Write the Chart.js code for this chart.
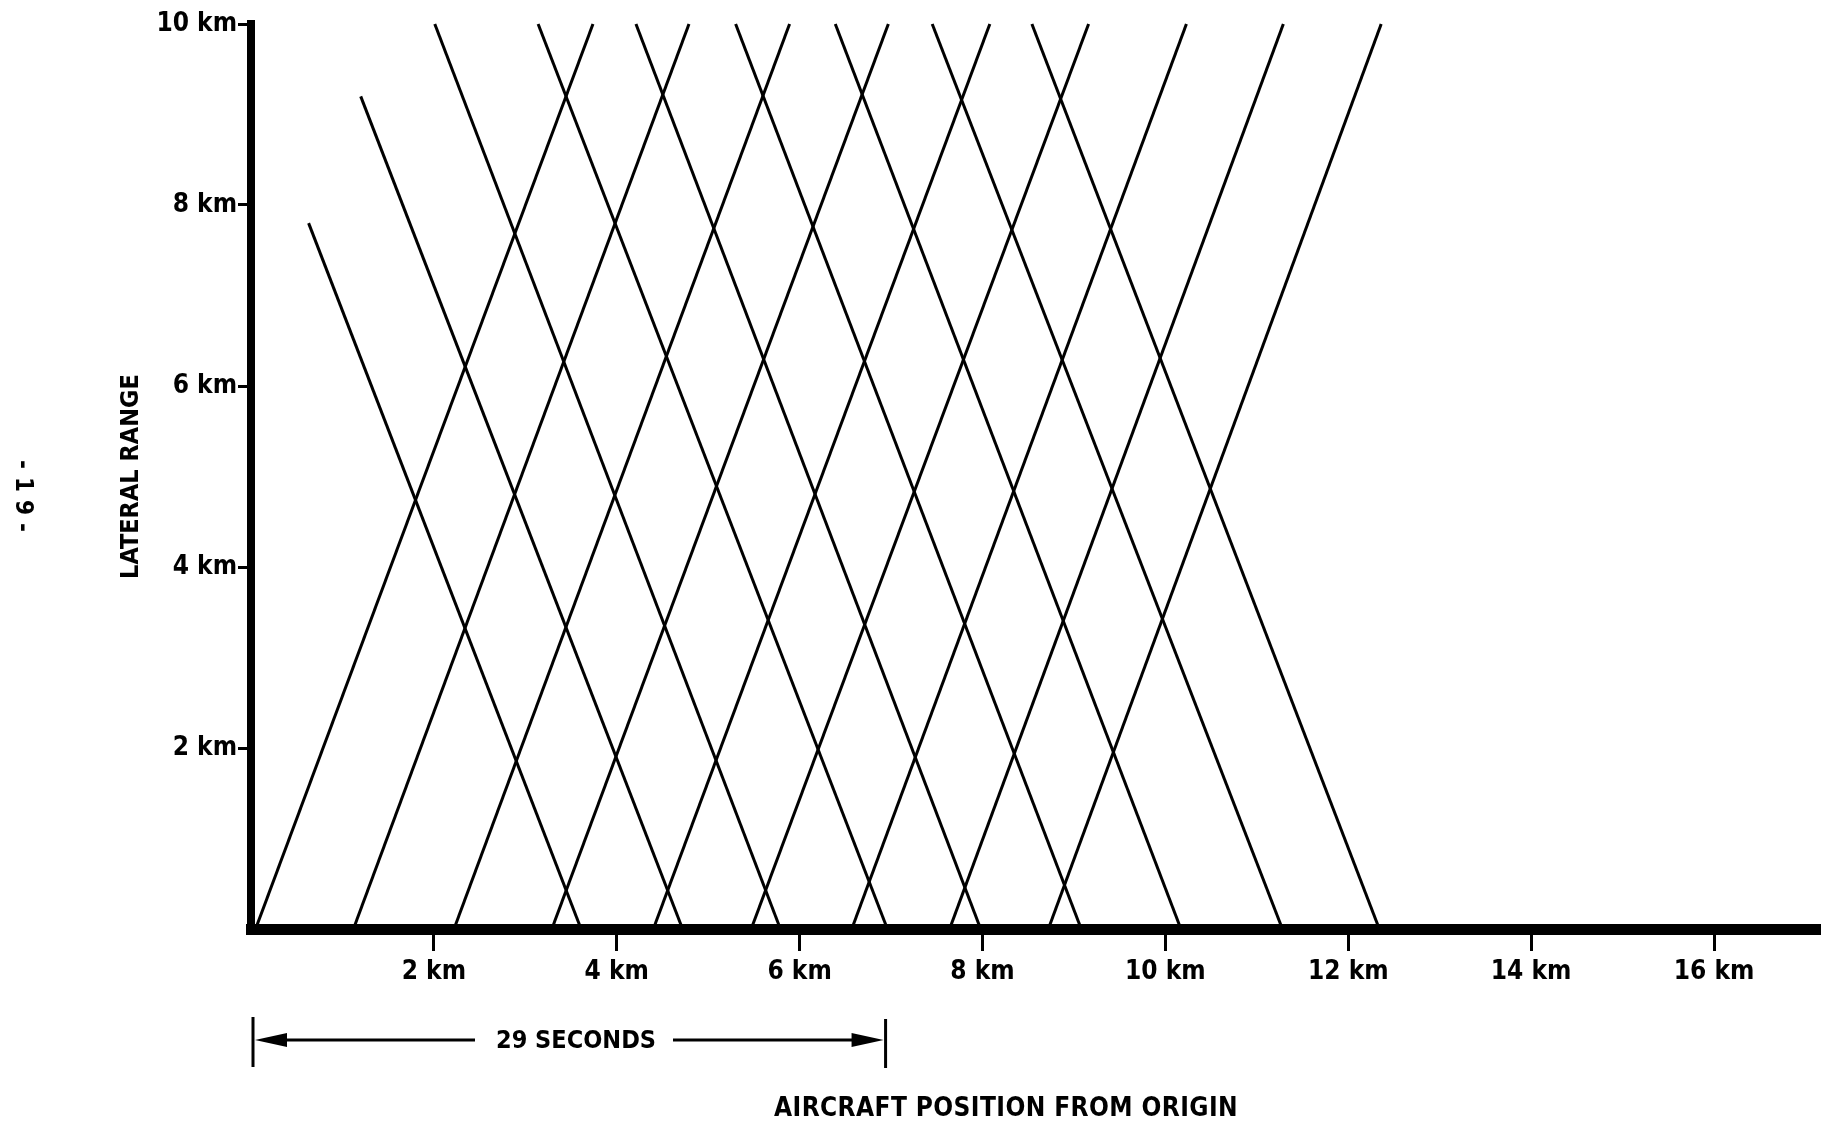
<!DOCTYPE html>
<html>
<head>
<meta charset="utf-8">
<script src="https://cdn.jsdelivr.net/npm/chart.js@4.4.1/dist/chart.umd.min.js"></script>
<style>
  html, body { margin: 0; padding: 0; background: #fff; }
  canvas { display: block; }
</style>
</head>
<body>
<canvas id="c" width="1821" height="1122"></canvas>
<script>
// ---------- data (km) ----------
const ascStartX  = [0.05, 1.12, 2.22, 3.29, 4.40, 5.47, 6.57, 7.64, 8.72];
const ascStartY  = [0, 0, 0, 0, 0, 0, 0, 0, 0];
const ascEndX    = [3.74, 4.79, 5.89, 6.97, 8.08, 9.16, 10.23, 11.29, 12.36];
const ascEndY    = [10, 10, 10, 10, 10, 10, 10, 10, 10];

const descStartX = [0.63, 1.20, 2.01, 3.14, 4.21, 5.30, 6.39, 7.45, 8.54];
const descStartY = [7.80, 9.20, 10, 10, 10, 10, 10, 10, 10];
const descEndX   = [3.61, 4.72, 5.79, 6.96, 7.98, 9.08, 10.17, 11.28, 12.34];
const descEndY   = [0, 0, 0, 0, 0, 0, 0, 0, 0];

const xTickValues = [2, 4, 6, 8, 10, 12, 14, 16];
const yTickValues = [2, 4, 6, 8, 10];
const xRange = [0, 17.17];
const yRange = [0, 10];
const spanKm = [0, 6.94];          // "29 SECONDS" span
const spanLabel = '29 SECONDS';
const xTitle = 'AIRCRAFT POSITION FROM ORIGIN';
const yTitle = 'LATERAL RANGE';
const pageLabel = '-19-';

// ---------- build ----------
const FONT = '"Liberation Sans Narrow", "DejaVu Sans Condensed", "Arial Narrow", sans-serif';
const datasets = [];
function seg(x1, y1, x2, y2) {
  return {
    data: [{x: x1, y: y1}, {x: x2, y: y2}],
    showLine: true,
    borderColor: '#000',
    borderWidth: 3,
    pointRadius: 0,
    pointHoverRadius: 0,
    clip: 4
  };
}
for (let i = 0; i < ascStartX.length; i++) datasets.push(seg(ascStartX[i], ascStartY[i], ascEndX[i], ascEndY[i]));
for (let i = 0; i < descStartX.length; i++) datasets.push(seg(descStartX[i], descStartY[i], descEndX[i], descEndY[i]));

const annot = {
  id: 'annot',
  afterDraw(chart) {
    const ctx = chart.ctx;
    const xs = chart.scales.x;
    ctx.save();
    ctx.fillStyle = '#000';
    ctx.strokeStyle = '#000';
    ctx.lineCap = 'butt';

    // span bars + arrows
    const xl = xs.getPixelForValue(spanKm[0]) + 2;
    const xr = xs.getPixelForValue(spanKm[1]);
    const ay = 1040;
    ctx.lineWidth = 3;
    ctx.beginPath();
    ctx.moveTo(xl, 1017); ctx.lineTo(xl, 1067);
    ctx.moveTo(xr, 1019); ctx.lineTo(xr, 1068);
    ctx.moveTo(xl + 20, ay); ctx.lineTo(475, ay);
    ctx.moveTo(673, ay); ctx.lineTo(xr - 20, ay);
    ctx.stroke();
    ctx.beginPath();
    ctx.moveTo(xl + 2, ay); ctx.lineTo(xl + 34, ay - 7); ctx.lineTo(xl + 34, ay + 7); ctx.closePath();
    ctx.fill();
    ctx.beginPath();
    ctx.moveTo(xr - 2, ay); ctx.lineTo(xr - 34, ay - 7); ctx.lineTo(xr - 34, ay + 7); ctx.closePath();
    ctx.fill();

    ctx.textAlign = 'center';
    ctx.textBaseline = 'middle';
    ctx.font = 'bold 25px ' + FONT;
    try { ctx.letterSpacing = '0px'; } catch (e) {}
    ctx.fillText(spanLabel, 576, ay + 1);

    ctx.font = 'bold 26px ' + FONT;
    try { ctx.letterSpacing = '0.4px'; } catch (e) {}
    ctx.fillText(xTitle, 1006, 1109);

    // page number, rotated
    ctx.translate(22, 496);
    ctx.rotate(Math.PI / 2);
    ctx.font = 'bold 24px ' + FONT;
    try { ctx.letterSpacing = '8px'; } catch (e) {}
    ctx.fillText(pageLabel, 4, 0);
    ctx.restore();
  }
};

new Chart(document.getElementById('c'), {
  type: 'scatter',
  data: { datasets },
  plugins: [annot],
  options: {
    responsive: false,
    devicePixelRatio: 1,
    animation: false,
    events: [],
    layout: { padding: { top: 24, left: 0, right: 0, bottom: 0 } },
    plugins: { legend: { display: false }, tooltip: { enabled: false } },
    scales: {
      x: {
        type: 'linear',
        position: 'bottom',
        min: xRange[0], max: xRange[1],
        afterFit: s => { s.height = 1122 - 929; },
        afterBuildTicks: s => { s.ticks = xTickValues.map(v => ({ value: v })); },
        ticks: {
          callback: v => v + ' km',
          font: { family: FONT, size: 26, weight: 'bold' },
          color: '#000',
          padding: 6,
          maxRotation: 0,
          autoSkip: false
        },
        grid: { drawOnChartArea: false, drawTicks: true, tickLength: 22, tickWidth: 3, tickColor: '#000', color: '#000' },
        border: { display: true, width: 11, color: '#000' }
      },
      y: {
        type: 'linear',
        position: 'left',
        min: yRange[0], max: yRange[1],
        afterFit: s => { s.width = 251; },
        afterBuildTicks: s => { s.ticks = yTickValues.map(v => ({ value: v })); },
        ticks: {
          callback: v => v + ' km',
          font: { family: FONT, size: 26, weight: 'bold' },
          color: '#000',
          padding: 1,
          autoSkip: false
        },
        grid: { drawOnChartArea: false, drawTicks: true, tickLength: 13, tickWidth: 3, tickColor: '#000', color: '#000' },
        border: { display: true, width: 8, color: '#000' },
        title: {
          display: true,
          text: yTitle,
          color: '#000',
          font: { family: FONT, size: 25, weight: 'bold' },
          padding: { top: 116, bottom: 0 }
        }
      }
    }
  }
});
</script>
</body>
</html>
